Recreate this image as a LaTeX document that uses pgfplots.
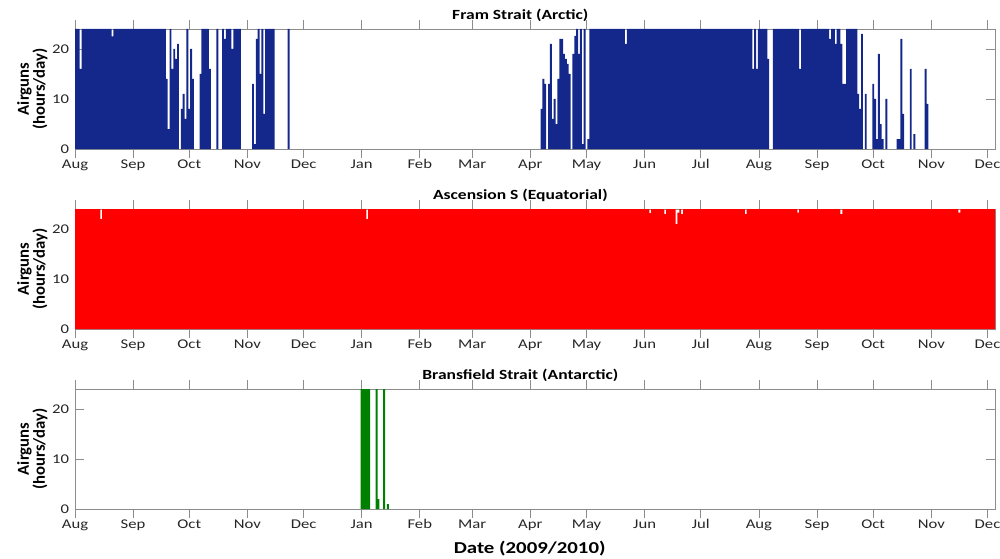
\documentclass[border=0pt]{standalone}
\usepackage{pgfplots}
\pgfplotsset{compat=1.18}
\usepackage{fontspec}
\setmainfont{Carlito}[FakeStretch=1.25]
\newfontfamily\labfont{Carlito}
\definecolor{fram}{RGB}{20,40,140}
\definecolor{asc}{RGB}{255,0,0}
\definecolor{bra}{RGB}{0,128,0}
\definecolor{axgray}{RGB}{140,140,140}
\definecolor{txt}{RGB}{38,38,38}
\pgfplotsset{panel/.style={
  scale only axis, width=690pt, height=90pt,
  xmin=0, xmax=491, ymin=0, ymax=24,
  xtick={0,31,61,92,122,153,184,212,243,273,304,334,365,396,426,457,487},
  xticklabels={Aug,Sep,Oct,Nov,Dec,Jan,Feb,Mar,Apr,May,Jun,Jul,Aug,Sep,Oct,Nov,Dec},
  ytick={0,10,20},
  axis line style={axgray}, tick style={axgray, line width=0.5pt}, major tick length=6.5pt,
  ticklabel style={font=\fontsize{10}{12}\selectfont, text=txt},
  /pgf/number format/assume math mode=true,
  xticklabel style={anchor=base, yshift=-8pt},
  yticklabel style={xshift=-1pt},
  ylabel={Airguns\\(hours/day)},
  ylabel style={font=\labfont\bfseries\fontsize{12.5}{12}\selectfont, align=center, text=black, at={(axis description cs:0,0.5)}, anchor=center, yshift=32pt},
  title style={font=\bfseries\fontsize{10.5}{12}\selectfont, at={(axis description cs:0.5,1)}, anchor=base, yshift=1pt, xshift=-11pt},
  ybar, bar width=1, bar shift=0pt,
  clip=true,
}}
\begin{document}
\begin{tikzpicture}
\useasboundingbox (0,0) rectangle (750pt,418.5pt);
\begin{axis}[panel, at={(56.25pt,306.75pt)}, anchor=south west, title={Fram Strait (Arctic)}]
\addplot[fill=fram, draw=none] coordinates {
(0,24)(1,24)(2,24)(3,16)(4,24)(5,24)(6,24)(7,24)(8,24)(9,24)
(10,24)(11,24)(12,24)(13,24)(14,24)(15,24)(16,24)(17,24)(18,24)(19,24)
(20,22.5)(21,24)(22,24)(23,24)(24,24)(25,24)(26,24)(27,24)(28,24)(29,24)
(30,24)(31,24)(32,24)(33,24)(34,24)(35,24)(36,24)(37,24)(38,24)(39,24)
(40,24)(41,24)(42,24)(43,24)(44,24)(45,24)(46,24)(47,24)(48,24)
(49,14)(50,4)(51,24)(52,16)(53,20)(54,18)(55,21)(57,8)(58,11)(59,6)
(60,24)(61,8)(62,20)(63,14)(67,15)(68,24)(69,24)(70,24)(71,24)(72,16)
(76,24)(79,24)(80,22)(81,24)(82,24)(83,24)(84,20)(85,24)(86,24)(87,24)(88,24)
(95,13)(96,1)(97,22)(98,24)(99,15)(100,24)(101,7)(102,24)(103,24)(104,24)(105,24)(106,24)
(114,24)
(249,8)(250,14)(251,13)(253,13)(254,21)(255,6)(256,10)(257,5)(258,14)(259,22)
(260,22)(261,19)(262,18)(263,17)(264,15)(266,19)(267,22.6)(268,24)(269,19)(270,24)
(271,1)(272,24)(274,2)
(275,24)(276,24)(277,24)(278,24)(279,24)(280,24)(281,24)(282,24)(283,24)(284,24)
(285,24)(286,24)(287,24)(288,24)(289,24)(290,24)(291,24)(292,24)(293,24)(294,21)
(295,24)(296,24)(297,24)(298,24)(299,24)(300,24)(301,24)(302,24)(303,24)(304,24)
(305,24)(306,24)(307,24)(308,24)(309,24)(310,24)(311,24)(312,24)(313,24)(314,24)
(315,24)(316,24)(317,24)(318,24)(319,24)(320,24)(321,24)(322,24)(323,24)(324,24)
(325,24)(326,24)(327,24)(328,24)(329,24)(330,24)(331,24)(332,24)(333,24)(334,24)
(335,24)(336,24)(337,24)(338,24)(339,24)(340,24)(341,24)(342,24)(343,24)(344,24)
(345,24)(346,24)(347,24)(348,24)(349,24)(350,24)(351,24)(352,24)(353,24)(354,24)
(355,24)(356,24)(357,24)(358,24)(359,24)(360,24)(361,24)(362,16)(363,24)(364,16)
(365,24)(366,24)(367,24)(368,24)(369,24)(370,18)
(373,24)(374,24)(375,24)(376,24)(377,24)(378,24)(379,24)(380,24)(381,24)(382,24)(383,24)
(384,24)(385,24)(386,24)(387,16)(388,24)(389,24)(390,24)(391,24)(392,24)(393,24)
(394,24)(395,24)(396,24)(397,24)(398,24)(399,24)(400,24)(401,24)(402,24)(403,22)
(404,24)(405,24)(406,21)(407,24)(408,24)(409,21)(410,13)(411,13)(412,24)(413,24)
(414,24)(415,24)(416,24)(417,24)(418,11)(419,8)(420,23)(422,11)
(426,13)(427,10)(428,2)(429,19)(430,5)(431,2)(433,10)
(439,2)(440,2)(441,22)(442,7)(446,16)(448,3)(454,16)(455,9)
};
\end{axis}
\begin{axis}[panel, at={(56.25pt,171.75pt)}, anchor=south west, title={Ascension S (Equatorial)}]
\addplot[fill=asc, draw=none] coordinates {
(0,24)(1,24)(2,24)(3,24)(4,24)(5,24)(6,24)(7,24)(8,24)(9,24)
(10,24)(11,24)(12,24)(13,24)(14,22)(15,24)(16,24)(17,24)(18,24)(19,24)
(20,24)(21,24)(22,24)(23,24)(24,24)(25,24)(26,24)(27,24)(28,24)(29,24)
(30,24)(31,24)(32,24)(33,24)(34,24)(35,24)(36,24)(37,24)(38,24)(39,24)
(40,24)(41,24)(42,24)(43,24)(44,24)(45,24)(46,24)(47,24)(48,24)(49,24)
(50,24)(51,24)(52,24)(53,24)(54,24)(55,24)(56,24)(57,24)(58,24)(59,24)
(60,24)(61,24)(62,24)(63,24)(64,24)(65,24)(66,24)(67,24)(68,24)(69,24)
(70,24)(71,24)(72,24)(73,24)(74,24)(75,24)(76,24)(77,24)(78,24)(79,24)
(80,24)(81,24)(82,24)(83,24)(84,24)(85,24)(86,24)(87,24)(88,24)(89,24)
(90,24)(91,24)(92,24)(93,24)(94,24)(95,24)(96,24)(97,24)(98,24)(99,24)
(100,24)(101,24)(102,24)(103,24)(104,24)(105,24)(106,24)(107,24)(108,24)(109,24)
(110,24)(111,24)(112,24)(113,24)(114,24)(115,24)(116,24)(117,24)(118,24)(119,24)
(120,24)(121,24)(122,24)(123,24)(124,24)(125,24)(126,24)(127,24)(128,24)(129,24)
(130,24)(131,24)(132,24)(133,24)(134,24)(135,24)(136,24)(137,24)(138,24)(139,24)
(140,24)(141,24)(142,24)(143,24)(144,24)(145,24)(146,24)(147,24)(148,24)(149,24)
(150,24)(151,24)(152,24)(153,24)(154,24)(155,24)(156,22)(157,24)(158,24)(159,24)
(160,24)(161,24)(162,24)(163,24)(164,24)(165,24)(166,24)(167,24)(168,24)(169,24)
(170,24)(171,24)(172,24)(173,24)(174,24)(175,24)(176,24)(177,24)(178,24)(179,24)
(180,24)(181,24)(182,24)(183,24)(184,24)(185,24)(186,24)(187,24)(188,24)(189,24)
(190,24)(191,24)(192,24)(193,24)(194,24)(195,24)(196,24)(197,24)(198,24)(199,24)
(200,24)(201,24)(202,24)(203,24)(204,24)(205,24)(206,24)(207,24)(208,24)(209,24)
(210,24)(211,24)(212,24)(213,24)(214,24)(215,24)(216,24)(217,24)(218,24)(219,24)
(220,24)(221,24)(222,24)(223,24)(224,24)(225,24)(226,24)(227,24)(228,24)(229,24)
(230,24)(231,24)(232,24)(233,24)(234,24)(235,24)(236,24)(237,24)(238,24)(239,24)
(240,24)(241,24)(242,24)(243,24)(244,24)(245,24)(246,24)(247,24)(248,24)(249,24)
(250,24)(251,24)(252,24)(253,24)(254,24)(255,24)(256,24)(257,24)(258,24)(259,24)
(260,24)(261,24)(262,24)(263,24)(264,24)(265,24)(266,24)(267,24)(268,24)(269,24)
(270,24)(271,24)(272,24)(273,24)(274,24)(275,24)(276,24)(277,24)(278,24)(279,24)
(280,24)(281,24)(282,24)(283,24)(284,24)(285,24)(286,24)(287,24)(288,24)(289,24)
(290,24)(291,24)(292,24)(293,24)(294,24)(295,24)(296,24)(297,24)(298,24)(299,24)
(300,24)(301,24)(302,24)(303,24)(304,24)(305,24)(306,24)(307,23.2)(308,24)(309,24)
(310,24)(311,24)(312,24)(313,24)(314,24)(315,23)(316,24)(317,24)(318,24)(319,24)
(320,24)(321,21)(322,23.3)(323,24)(324,23)(325,24)(326,24)(327,24)(328,24)(329,24)
(330,24)(331,24)(332,24)(333,24)(334,24)(335,24)(336,24)(337,24)(338,24)(339,24)
(340,24)(341,24)(342,24)(343,24)(344,24)(345,24)(346,24)(347,24)(348,24)(349,24)
(350,24)(351,24)(352,24)(353,24)(354,24)(355,24)(356,24)(357,24)(358,23)(359,24)
(360,24)(361,24)(362,24)(363,24)(364,24)(365,24)(366,24)(367,24)(368,24)(369,24)
(370,24)(371,24)(372,24)(373,24)(374,24)(375,24)(376,24)(377,24)(378,24)(379,24)
(380,24)(381,24)(382,24)(383,24)(384,24)(385,24)(386,23.3)(387,24)(388,24)(389,24)
(390,24)(391,24)(392,24)(393,24)(394,24)(395,24)(396,24)(397,24)(398,24)(399,24)
(400,24)(401,24)(402,24)(403,24)(404,24)(405,24)(406,24)(407,24)(408,24)(409,23)
(410,24)(411,24)(412,24)(413,24)(414,24)(415,24)(416,24)(417,24)(418,24)(419,24)
(420,24)(421,24)(422,24)(423,24)(424,24)(425,24)(426,24)(427,24)(428,24)(429,24)
(430,24)(431,24)(432,24)(433,24)(434,24)(435,24)(436,24)(437,24)(438,24)(439,24)
(440,24)(441,24)(442,24)(443,24)(444,24)(445,24)(446,24)(447,24)(448,24)(449,24)
(450,24)(451,24)(452,24)(453,24)(454,24)(455,24)(456,24)(457,24)(458,24)(459,24)
(460,24)(461,24)(462,24)(463,24)(464,24)(465,24)(466,24)(467,24)(468,24)(469,24)
(470,24)(471,24)(472,23.3)(473,24)(474,24)(475,24)(476,24)(477,24)(478,24)(479,24)
(480,24)(481,24)(482,24)(483,24)(484,24)(485,24)(486,24)(487,24)(488,24)(489,24)
(490,24)(491,24)
};
\end{axis}
\begin{axis}[panel, at={(56.25pt,36.75pt)}, anchor=south west, title={Bransfield Strait (Antarctic)},
  xlabel={Date (2009/2010)},
  xlabel style={font=\bfseries\fontsize{12.5}{12}\selectfont, at={(axis description cs:0.5,0)}, anchor=base, yshift=-33pt, xshift=-4pt}]
\addplot[fill=bra, draw=none] coordinates {
(153,24)(154,24)(155,24)(156,24)(157,24)(161,24)(162,2)(165,24)(167,1)
};
\end{axis}
\end{tikzpicture}
\end{document}
